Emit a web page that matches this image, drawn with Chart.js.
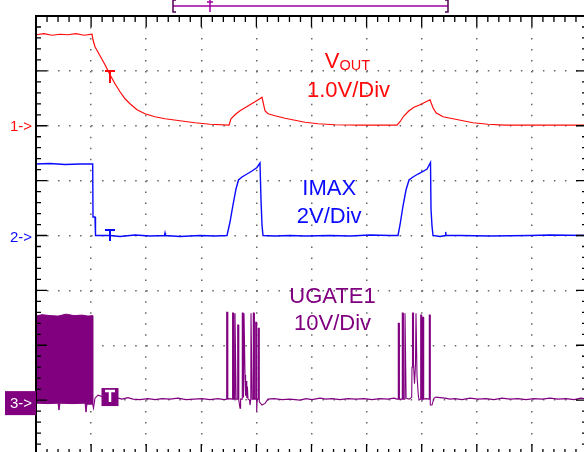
<!DOCTYPE html>
<html>
<head>
<meta charset="utf-8">
<script src="https://cdn.jsdelivr.net/npm/chart.js@4.4.0/dist/chart.umd.min.js"></script>
<style>
html, body { margin:0; padding:0; background:#fff; overflow:hidden; width:584px; height:452px; }
canvas { display:block; }
</style>
</head>
<body>
<canvas id="scope" width="600" height="470" style="width:600px;height:470px"></canvas>
<script>
// ---- Time base: record points, 55.1 points per division, 10 divisions ----
const POINTS_PER_DIV = 55.1;
const DIVS_X = 10;
const DIVS_Y = 8;
const TRIGGER_T = 74;

// ---- Channel 1: VOUT (volts), 1.0 V/div ----
const voutT = [0,8,16,24,32,40,48,56,57,59,64,69,74,79,84,89,94,101,109,119,129,144,159,174,193,
  195,199,204,209,214,219,223,226,229,232,239,249,259,269,282,299,324,361,
  364,368,373,378,384,389,394,397,400,407,417,427,437,452,469,551];
const voutV = [1.658,1.677,1.649,1.667,1.658,1.677,1.649,1.667,1.567,1.440,1.276,1.112,0.929,0.765,0.620,0.492,0.401,0.292,0.219,0.164,0.128,0.091,0.055,0.027,0.01,
  0.128,0.200,0.273,0.328,0.383,0.437,0.483,0.519,0.273,0.219,0.182,0.137,0.100,0.064,0.036,0.018,0.01,0.01,
  0.073,0.182,0.273,0.337,0.383,0.428,0.474,0.328,0.237,0.164,0.128,0.091,0.055,0.027,0.01,0.01];

// ---- Channel 2: IMAX (volts), 2 V/div ----
const imaxT = [0,14,29,44,56.7,57,59,59.5,74,84,99,114,128.5,129,129.5,144,164,179,191,194,197,200,202.5,206,211,216,221,224,225,226,227,
  239,254,269,294,314,334,354,362,364,367,370,373,377,382,387,391,394.5,395,396,397,404,409.5,409.7,410,424,454,494,514,551];
const imaxV = [2.606,2.624,2.588,2.606,2.606,0.674,0.674,0,0,-0.036,0.018,-0.018,0,0.09,0,-0.036,0,-0.018,0,0.492,1.112,1.695,2.023,2.132,2.241,2.351,2.478,2.642,1.294,0.383,0,
  -0.018,0,-0.018,0,-0.018,0.018,0,0,0.383,1.075,1.658,2.023,2.132,2.241,2.333,2.424,2.661,0.966,0.346,0,-0.036,0,0.13,0,0,-0.018,0,0.018,0];

// ---- Channel 3: UGATE1 (volts), 10 V/div ----
const ugateT = [56.7,57.5,59,62,74,82,86,92,97,104,112,119,126,134,142,150,158,166,174,182,188,
  190.5,190.7,191.6,191.8,194,196.4,196.6,197.5,197.7,198.8,199,199.9,200.1,201.5,201.7,202.6,202.8,204,204.6,
  206.1,206.3,207.1,207.2,207.8,208,208.8,209,209.6,210.3,210.8,211.4,212,213.5,214,214.8,215,215.9,216.1,
  217.1,217.3,218.2,218.4,219.5,219.7,220.5,220.7,221.2,222.1,222.3,223.1,223.3,226,229,232,
  238,246,254,264,270,276,284,290,296,304,312,320,328,336,344,352,358,361,
  362.1,362.3,363.2,363.4,366.1,366.3,367.2,367.4,368.8,369,369.9,370.1,373,375.7,376,376.5,377.3,377.5,378.5,379.5,
  380,380.8,381,382.3,383,384.5,384.7,385.5,385.7,386.5,386.7,387.5,387.7,390,393.1,393.3,394.1,394.3,396,398,
  400,404,409,414,419,426,434,442,450,458,466,474,482,490,498,506,514,522,530,538,545,551];
const ugateV = [-0.73,-1.46,0.36,0.91,0.18,0.36,0.18,0.46,0.18,0.09,0.27,0.09,0.27,0.18,0.36,0.09,0.18,0.27,0.09,0.27,0.09,
  0.18,16.0,16.0,0.18,0.27,0.18,15.85,15.85,0.18,0.18,15.85,15.85,0.18,0.18,13.7,13.7,0,-1.46,0.18,
  0.18,15.85,15.85,5.1,0.5,15.85,15.85,4.6,0.8,3.5,0.4,2.5,0.2,0,-0.9,0.18,15.85,15.85,0.18,
  0.18,15.85,15.85,0.18,0.18,14.2,14.2,-2.1,0.18,0.18,13.1,13.1,-0.3,-0.9,-0.6,0.18,
  0.27,0.09,0.18,0,0.27,0.09,0.36,0.18,0.27,0.09,0.27,0.18,0.27,0.09,0.27,0.18,0.36,0.18,
  0.18,14.0,14.0,0.18,0.18,15.85,15.85,0.18,0.18,15.85,15.85,0.36,0.18,0.5,6.0,15.85,15.85,6.7,3.0,6.5,
  15.85,15.85,4.5,0.9,0,0.18,15.5,15.5,0.18,0.18,15.1,15.1,0.18,0.27,0.18,15.5,15.5,-0.9,-0.9,0.36,
  0.55,0.46,0.36,0.18,0.27,0.09,0.36,0.18,0.27,0.09,0.36,0.18,0.27,0.09,0.27,0.18,0.36,0.18,0.27,0.09,0.36,0.18];

// Channel 3 switching burst before the trigger (upper and lower envelope)
const ugateBurstHighT = [0,6,14,22,30,38,46,52,56.7];
const ugateBurstHigh  = [15.31,15.58,15.40,15.31,15.67,15.40,15.49,15.31,15.40];
const ugateBurstLowT  = [0,12,22,23,24,36,49,50,51,56.7];
const ugateBurstLow   = [-0.55,-0.64,-0.55,-1.82,-0.55,-0.64,-0.55,-2.19,-0.73,-0.73];

// Channel settings
const RED = '#ff0a0a', BLUE = '#0a0aff', PURPLE = '#800080';
const ch1 = {voltsPerDiv: 1, groundDiv: 6};
const ch2 = {voltsPerDiv: 2, groundDiv: 4};
const ch3 = {voltsPerDiv: 10, groundDiv: 1};

// Text annotations (x in record points, y in divisions)
const notes = [
  {text: '1.0V/Div', x: 312.5, y: 6.524, color: RED},
  {text: 'IMAX',     x: 293.2, y: 4.738, color: BLUE},
  {text: '2V/Div',   x: 293.2, y: 4.228, color: BLUE},
  {text: 'UGATE1',   x: 296.5, y: 2.770, color: PURPLE},
  {text: '10V/Div',  x: 296.5, y: 2.278, color: PURPLE}
];

const pts = (t, v) => t.map((x, i) => ({x: x, y: v[i]}));
const burstShape = pts(ugateBurstHighT, ugateBurstHigh).concat(pts(ugateBurstLowT, ugateBurstLow).reverse());
const chAxis = ch => ({type: 'linear', display: false,
  min: -ch.groundDiv * ch.voltsPerDiv, max: (DIVS_Y - ch.groundDiv) * ch.voltsPerDiv});

const FONT = '"Liberation Sans", Arial, Helvetica, sans-serif';

const scopeDecor = {
  id: 'scopeDecor',
  afterDatasetsDraw(chart) {
    const {ctx, chartArea: a, scales} = chart;
    const sx = scales.x, sy = scales.y;
    ctx.save();
    // frame
    ctx.strokeStyle = '#000';
    ctx.lineWidth = 2;
    ctx.strokeRect(a.left, a.top, a.right - a.left, a.bottom - a.top);
    ctx.lineWidth = 1.3;
    ctx.beginPath();
    for (let i = 0; i <= DIVS_X * 5; i++) {
      const px = sx.getPixelForValue(i * POINTS_PER_DIV / 5);
      const lenT = i % 5 === 0 ? 11 : 6;
      ctx.moveTo(px, a.top); ctx.lineTo(px, a.top + lenT);
      ctx.moveTo(px, a.bottom); ctx.lineTo(px, a.bottom - lenT);
    }
    for (let j = 0; j <= DIVS_Y * 5; j++) {
      const py = sy.getPixelForValue(j / 5);
      const len = j % 5 === 0 ? 11 : 5;
      ctx.moveTo(a.left, py); ctx.lineTo(a.left + len, py);
      ctx.moveTo(a.right, py); ctx.lineTo(a.right - len, py);
    }
    ctx.stroke();

    // channel ground markers
    ctx.font = '15px ' + FONT;
    ctx.textAlign = 'right';
    ctx.textBaseline = 'alphabetic';
    const g1 = scales.y1.getPixelForValue(0), g2 = scales.y2.getPixelForValue(0), g3 = scales.y3.getPixelForValue(0);
    ctx.fillStyle = RED;  ctx.fillText('1->', a.left - 4, g1 + 5.5);
    ctx.fillStyle = BLUE; ctx.fillText('2->', a.left - 4, g2 + 6);
    ctx.fillStyle = PURPLE; ctx.fillRect(5, g3 - 9, a.left - 5, 24);
    ctx.fillStyle = '#fff'; ctx.fillText('3->', a.left - 4, g3 + 7.5);

    // trigger markers
    const tx = sx.getPixelForValue(TRIGGER_T);
    const drawT = (x, top, h, color, w) => {
      ctx.strokeStyle = color; ctx.lineWidth = w;
      ctx.beginPath();
      ctx.moveTo(x - 5, top); ctx.lineTo(x + 5, top);
      ctx.moveTo(x, top); ctx.lineTo(x, top + h);
      ctx.stroke();
    };
    drawT(tx, scales.y1.getPixelForValue(1.0), 12, RED, 2);
    drawT(tx, scales.y2.getPixelForValue(0.2), 11, BLUE, 2);
    const boxTop = scales.y3.getPixelForValue(2.2);
    ctx.fillStyle = PURPLE; ctx.fillRect(tx - 8.5, boxTop, 17, 18);
    drawT(tx, boxTop + 3, 11, '#fff', 2.5);

    // horizontal trigger/window bracket above the graticule
    const bx1 = sx.getPixelForValue(137), bx2 = sx.getPixelForValue(412), bt = sx.getPixelForValue(174);
    const by = a.top - 10;
    ctx.strokeStyle = '#a000a0'; ctx.lineWidth = 1.5;
    ctx.beginPath();
    ctx.moveTo(bx1, by); ctx.lineTo(bx2, by);
    ctx.moveTo(bt, by - 6); ctx.lineTo(bt, by + 6);
    ctx.moveTo(bt - 3, by - 4); ctx.lineTo(bt + 3, by - 4);
    ctx.stroke();
    ctx.strokeStyle = '#500050'; ctx.lineWidth = 1.5;
    ctx.beginPath();
    ctx.moveTo(bx1 + 3, by - 6); ctx.lineTo(bx1, by - 6); ctx.lineTo(bx1, by + 6); ctx.lineTo(bx1 + 3, by + 6);
    ctx.moveTo(bx2 - 3, by - 6); ctx.lineTo(bx2, by - 6); ctx.lineTo(bx2, by + 6); ctx.lineTo(bx2 - 3, by + 6);
    ctx.stroke();

    // channel labels
    ctx.textAlign = 'center';
    ctx.font = '22px ' + FONT;
    for (const n of notes) {
      ctx.fillStyle = n.color;
      ctx.fillText(n.text, sx.getPixelForValue(n.x), sy.getPixelForValue(n.y));
    }
    // V_OUT with subscript
    ctx.textAlign = 'left';
    ctx.fillStyle = RED;
    ctx.font = '22px ' + FONT;
    const wV = ctx.measureText('V').width;
    ctx.font = '14.5px ' + FONT;
    const wO = ctx.measureText('OUT').width;
    const cx = sx.getPixelForValue(311.5), by0 = sy.getPixelForValue(7.052);
    const left = cx - (wV + wO) / 2;
    ctx.font = '22px ' + FONT;
    ctx.fillText('V', left, by0);
    ctx.font = '14.5px ' + FONT;
    ctx.fillText('OUT', left + wV, by0 + 2);
    ctx.restore();
  }
};

const dottedGrid = gap => ({color: '#666', lineWidth: 1.5, drawTicks: false});
const dottedBorder = gap => ({display: false, dash: [1.5, gap], dashOffset: 0});

new Chart(document.getElementById('scope'), {
  type: 'line',
  data: {
    datasets: [
      {label: 'VOUT', data: pts(voutT, voutV), yAxisID: 'y1', borderColor: RED, borderWidth: 1.2,
       pointRadius: 0, tension: 0, fill: false},
      {label: 'IMAX', data: pts(imaxT, imaxV), yAxisID: 'y2', borderColor: BLUE, borderWidth: 1.4,
       pointRadius: 0, tension: 0, fill: false},
      {label: 'UGATE1 burst', data: burstShape, yAxisID: 'y3', borderColor: PURPLE, backgroundColor: PURPLE,
       borderWidth: 1, pointRadius: 0, tension: 0, fill: 'shape'},
      {label: 'UGATE1', data: pts(ugateT, ugateV), yAxisID: 'y3', borderColor: PURPLE, borderWidth: 1.1,
       pointRadius: 0, tension: 0, fill: false}
    ]
  },
  options: {
    responsive: false,
    animation: false,
    devicePixelRatio: 1,
    layout: {padding: {left: 36, top: 16, right: 13, bottom: 15}},
    plugins: {legend: {display: false}, tooltip: {enabled: false}, title: {display: false}},
    scales: {
      x: {type: 'linear', min: 0, max: DIVS_X * POINTS_PER_DIV,
          ticks: {display: false, stepSize: POINTS_PER_DIV},
          grid: dottedGrid(), border: dottedBorder(9.475)},
      y: {type: 'linear', min: 0, max: DIVS_Y,
          ticks: {display: false, stepSize: 1},
          grid: dottedGrid(), border: dottedBorder(9.52)},
      y1: chAxis(ch1),
      y2: chAxis(ch2),
      y3: chAxis(ch3)
    }
  },
  plugins: [scopeDecor]
});
</script>
</body>
</html>
